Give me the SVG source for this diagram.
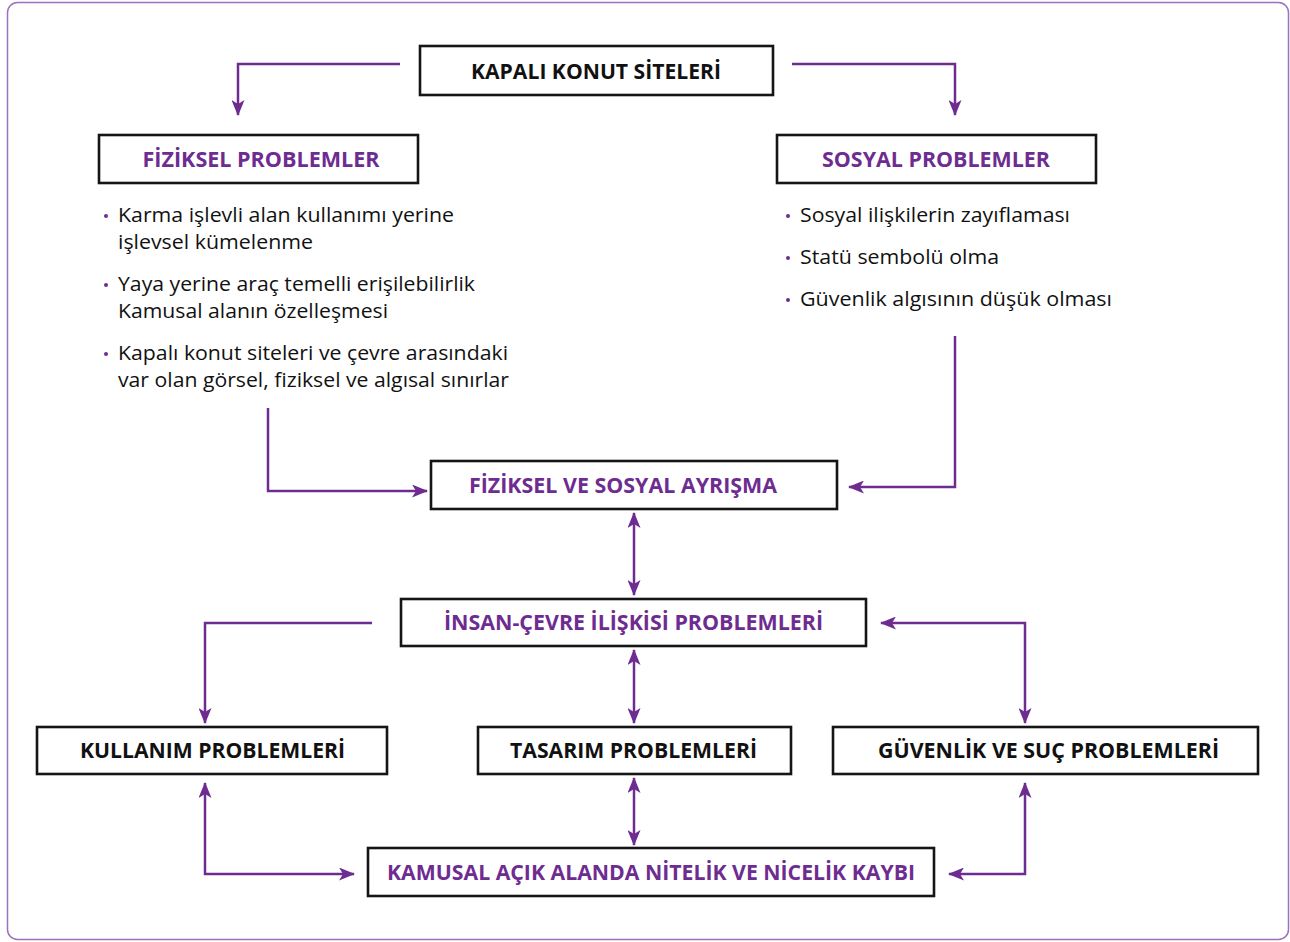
<svg xmlns="http://www.w3.org/2000/svg" width="1290" height="942" viewBox="0 0 1290 942">
<defs>
<marker id="ah" markerUnits="userSpaceOnUse" markerWidth="16" markerHeight="13" refX="15" refY="6.5" orient="auto-start-reverse">
<path d="M0,0 L16,6.5 L0,13 L4,6.5 z" fill="#6e2c91"/>
</marker>
<style>
.box{fill:#fff;stroke:#151515;stroke-width:2.6}
.tp{font-family:"Open Sans","Noto Sans",sans-serif;font-weight:bold;font-size:21px;fill:#6e2c91;text-anchor:middle}
.tk{font-family:"Open Sans","Noto Sans",sans-serif;font-weight:bold;font-size:21px;fill:#111;text-anchor:middle}
.bt{font-family:"Open Sans","Noto Sans",sans-serif;font-size:19.5px;fill:#111}
.dot{fill:#6e2c91}
.con{fill:none;stroke:#6e2c91;stroke-width:2.5}
</style>
</defs>
<rect x="7.5" y="2.5" width="1281" height="937" rx="10" fill="#fff" stroke="#9a72bd" stroke-width="1.5"/>
<g id="connectors">
<path class="con" d="M400,64 H238 V115" marker-end="url(#ah)"/>
<path class="con" d="M792,64 H955 V115" marker-end="url(#ah)"/>
<path class="con" d="M268,408 V491 H427" marker-end="url(#ah)"/>
<path class="con" d="M955,336 V487 H849" marker-end="url(#ah)"/>
<path class="con" d="M634,513 V595" marker-start="url(#ah)" marker-end="url(#ah)"/>
<path class="con" d="M372,623 H205 V723" marker-end="url(#ah)"/>
<path class="con" d="M634,650 V723" marker-start="url(#ah)" marker-end="url(#ah)"/>
<path class="con" d="M881,623 H1025 V723" marker-start="url(#ah)" marker-end="url(#ah)"/>
<path class="con" d="M205,783 V874 H354" marker-start="url(#ah)" marker-end="url(#ah)"/>
<path class="con" d="M634,778 V845" marker-start="url(#ah)" marker-end="url(#ah)"/>
<path class="con" d="M1025,783 V874 H949" marker-start="url(#ah)" marker-end="url(#ah)"/>
</g>
<g id="kapali">
<rect class="box" x="420" y="46" width="353" height="49"/>
<text class="tk" x="596" y="79" textLength="250" lengthAdjust="spacingAndGlyphs">KAPALI KONUT SİTELERİ</text>
</g>
<g id="fiziksel">
<rect class="box" x="99" y="135" width="319" height="48"/>
<text class="tp" x="261" y="167" textLength="237" lengthAdjust="spacingAndGlyphs">FİZİKSEL PROBLEMLER</text>
</g>
<g id="sosyal">
<rect class="box" x="777" y="135" width="319" height="48"/>
<text class="tp" x="936" y="167" textLength="228" lengthAdjust="spacingAndGlyphs">SOSYAL PROBLEMLER</text>
</g>
<g id="fiziksel-list">
<circle class="dot" cx="106" cy="216" r="2"/>
<text class="bt" x="118" y="222" textLength="336" lengthAdjust="spacingAndGlyphs">Karma işlevli alan kullanımı yerine</text>
<text class="bt" x="118" y="249" textLength="195" lengthAdjust="spacingAndGlyphs">işlevsel kümelenme</text>
<circle class="dot" cx="106" cy="285" r="2"/>
<text class="bt" x="118" y="291" textLength="357" lengthAdjust="spacingAndGlyphs">Yaya yerine araç temelli erişilebilirlik</text>
<text class="bt" x="118" y="318" textLength="270" lengthAdjust="spacingAndGlyphs">Kamusal alanın özelleşmesi</text>
<circle class="dot" cx="106" cy="354" r="2"/>
<text class="bt" x="118" y="360" textLength="390" lengthAdjust="spacingAndGlyphs">Kapalı konut siteleri ve çevre arasındaki</text>
<text class="bt" x="118" y="387" textLength="391" lengthAdjust="spacingAndGlyphs">var olan görsel, fiziksel ve algısal sınırlar</text>
</g>
<g id="sosyal-list">
<circle class="dot" cx="788" cy="216" r="2"/>
<text class="bt" x="800" y="222" textLength="270" lengthAdjust="spacingAndGlyphs">Sosyal ilişkilerin zayıflaması</text>
<circle class="dot" cx="788" cy="258" r="2"/>
<text class="bt" x="800" y="264" textLength="199" lengthAdjust="spacingAndGlyphs">Statü sembolü olma</text>
<circle class="dot" cx="788" cy="300" r="2"/>
<text class="bt" x="800" y="306" textLength="312" lengthAdjust="spacingAndGlyphs">Güvenlik algısının düşük olması</text>
</g>
<g id="ayrisma">
<rect class="box" x="431" y="461" width="406" height="48"/>
<text class="tp" x="623" y="493" textLength="308" lengthAdjust="spacingAndGlyphs">FİZİKSEL VE SOSYAL AYRIŞMA</text>
</g>
<g id="insan-cevre">
<rect class="box" x="401" y="599" width="465" height="47"/>
<text class="tp" x="633.5" y="630" textLength="379" lengthAdjust="spacingAndGlyphs">İNSAN-ÇEVRE İLİŞKİSİ PROBLEMLERİ</text>
</g>
<g id="kullanim">
<rect class="box" x="37" y="727" width="350" height="47"/>
<text class="tk" x="212.5" y="758" textLength="265" lengthAdjust="spacingAndGlyphs">KULLANIM PROBLEMLERİ</text>
</g>
<g id="tasarim">
<rect class="box" x="478" y="727" width="313" height="47"/>
<text class="tk" x="633.5" y="758" textLength="247" lengthAdjust="spacingAndGlyphs">TASARIM PROBLEMLERİ</text>
</g>
<g id="guvenlik">
<rect class="box" x="833" y="727" width="425" height="47"/>
<text class="tk" x="1048.5" y="758" textLength="341" lengthAdjust="spacingAndGlyphs">GÜVENLİK VE SUÇ PROBLEMLERİ</text>
</g>
<g id="kamusal">
<rect class="box" x="368" y="848" width="566" height="48"/>
<text class="tp" x="651" y="880" textLength="528" lengthAdjust="spacingAndGlyphs">KAMUSAL AÇIK ALANDA NİTELİK VE NİCELİK KAYBI</text>
</g>
</svg>
